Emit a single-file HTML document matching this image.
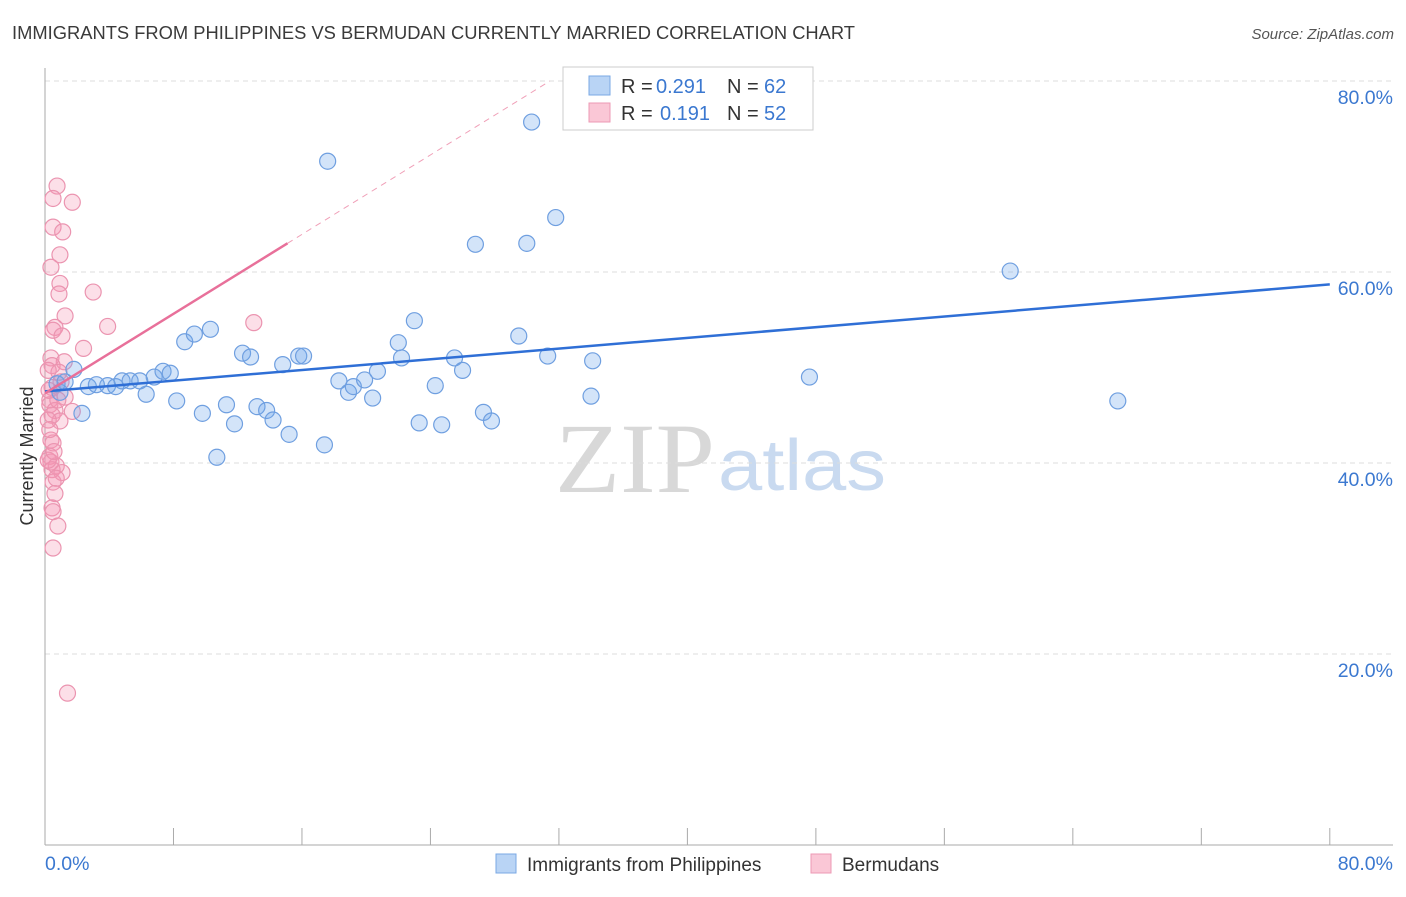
<!DOCTYPE html>
<html><head><meta charset="utf-8"><style>
body{margin:0;background:#fff;font-family:"Liberation Sans",sans-serif}
</style></head><body>
<svg id="chart" width="1406" height="892" xmlns="http://www.w3.org/2000/svg" font-family="Liberation Sans, sans-serif">
<text x="12" y="39" font-size="18" fill="#3a3a3a" textLength="843" lengthAdjust="spacingAndGlyphs">IMMIGRANTS FROM PHILIPPINES VS BERMUDAN CURRENTLY MARRIED CORRELATION CHART</text>
<text x="1394" y="39" font-size="15" fill="#555" text-anchor="end" font-style="italic">Source: ZipAtlas.com</text>
<text x="555" y="492" font-size="100" fill="#d8d8d8" font-family="Liberation Serif, serif" textLength="160" lengthAdjust="spacingAndGlyphs">ZIP</text>
<text x="718" y="490" font-size="72" fill="#c9daf0" textLength="168" lengthAdjust="spacingAndGlyphs">atlas</text>
<text transform="translate(33,456) rotate(-90)" font-size="18" fill="#333" text-anchor="middle">Currently Married</text>
<g id="grid"></g><g id="marks"></g>
<g font-size="20">
<rect x="563" y="67" width="250" height="63" fill="#fff" stroke="#ccc"/>
<rect x="589" y="76" width="21" height="19" fill="#b9d4f5" stroke="#7aa8e4"/>
<rect x="589" y="103" width="21" height="19" fill="#fac7d6" stroke="#ec9ab4"/>
<text x="621" y="93" fill="#333">R =</text><text x="656" y="93" fill="#3b78d0">0.291</text>
<text x="727" y="93" fill="#333">N =</text><text x="764" y="93" fill="#3b78d0">62</text>
<text x="621" y="120" fill="#333">R =</text><text x="660" y="120" fill="#3b78d0">0.191</text>
<text x="727" y="120" fill="#333">N =</text><text x="764" y="120" fill="#3b78d0">52</text>
</g>
<g>
<rect x="496" y="854" width="20" height="19" fill="#b9d4f5" stroke="#7aa8e4"/>
<text x="527" y="871" font-size="19" fill="#333">Immigrants from Philippines</text>
<rect x="811" y="854" width="20" height="19" fill="#fac7d6" stroke="#ec9ab4"/>
<text x="842" y="871" font-size="19" fill="#333">Bermudans</text>
</g>
</svg>
<script>
const yTicks=[20,40,60,80];
const yTickLabels=["20.0%","40.0%","60.0%","80.0%"];
const blueX=[0.75,0.93,1.25,1.8,2.3,2.7,3.2,3.9,4.4,4.8,5.3,5.9,6.3,6.8,7.35,7.8,8.2,8.7,9.3,9.8,10.3,10.7,11.3,11.8,12.3,12.8,13.2,13.8,14.2,14.8,15.2,15.8,16.1,17.4,17.6,18.3,18.9,19.2,19.9,20.4,20.7,22.0,22.2,23.0,23.3,24.3,24.7,25.5,26.0,26.8,27.3,27.8,29.5,30.0,30.3,31.3,31.8,34.1,34.0,47.6,60.1,66.8];
const blueY=[48.3,47.4,48.5,49.8,45.2,48.0,48.2,48.1,48.0,48.6,48.6,48.6,47.2,49.0,49.6,49.4,46.5,52.7,53.5,45.2,54.0,40.6,46.1,44.1,51.5,51.1,45.9,45.5,44.5,50.3,43.0,51.2,51.2,41.9,71.6,48.6,47.4,48.0,48.7,46.8,49.6,52.6,51.0,54.9,44.2,48.1,44.0,51.0,49.7,62.9,45.3,44.4,53.3,63.0,75.7,51.2,65.7,50.7,47.0,49.0,60.1,46.5];
const pinkX=[0.75,0.5,1.7,0.5,1.1,0.93,0.37,0.93,0.87,3.0,1.25,0.62,0.5,3.9,13.0,1.06,2.4,0.37,1.2,0.44,0.87,1.0,0.44,1.25,0.3,0.3,0.62,1.7,0.44,0.93,0.37,0.5,0.3,0.37,0.7,0.44,1.06,0.5,0.62,0.44,0.5,0.8,0.5,1.4,0.2,0.2,0.2,0.3,0.56,0.7,0.25,0.8];
const pinkY=[69.0,67.7,67.3,64.7,64.2,61.8,60.5,58.8,57.7,57.9,55.4,54.2,53.9,54.3,54.7,53.3,52.0,51.0,50.6,50.2,49.5,48.5,47.9,46.9,46.6,46.1,45.5,45.4,45.0,44.4,42.4,42.1,40.7,40.1,39.7,39.3,39.0,38.0,36.8,35.3,34.9,33.4,31.1,15.9,49.7,44.5,40.3,43.5,41.2,38.4,47.6,46.6];
const blueTrend=[47.5,0.14];
const pinkTrend=[47.3,1.04,15.1];
const NS="http://www.w3.org/2000/svg";
const X=v=>45+v*16.06, Y=v=>845-v*9.55;
function mk(t,a,p){const e=document.createElementNS(NS,t);for(const k in a)e.setAttribute(k,a[k]);p.appendChild(e);return e;}
const g=document.getElementById('grid'),m=document.getElementById('marks');
yTicks.forEach((t,i)=>{
 const l=mk('line',{x1:45,x2:1393,y1:Y(t),y2:Y(t),stroke:'#ddd','stroke-dasharray':'5,4'},g);
 
 
 const tx=mk('text',{x:1393,y:Y(t)+23,'font-size':19.5,fill:'#3b78d0','text-anchor':'end'},g);
 tx.textContent=yTickLabels[i];
 
 
});
const ax=mk('line',{x1:45,x2:45,y1:68,y2:845,stroke:'#aaa'},g);


const bx=mk('line',{x1:45,x2:1393,y1:845,y2:845,stroke:'#aaa'},g);


for(let i=0;i<=10;i++){const t=mk('line',{x1:X(i*8),x2:X(i*8),y1:828,y2:845,stroke:'#aaa'},g);
 
 }
const x0=mk('text',{x:45,y:870,'font-size':19.5,fill:'#3b78d0'},g);x0.textContent='0.0%';


const x1=mk('text',{x:1393,y:870,'font-size':19.5,fill:'#3b78d0','text-anchor':'end'},g);x1.textContent='80.0%';


pinkX.forEach((v,i)=>{const c=mk('circle',{cx:X(v),cy:Y(pinkY[i]),r:8,fill:'rgba(245,150,180,0.3)',stroke:'#eb94b0','stroke-width':1.2},m);
 
 });
blueX.forEach((v,i)=>{const c=mk('circle',{cx:X(v),cy:Y(blueY[i]),r:8,fill:'rgba(110,165,235,0.3)',stroke:'#6f9fe0','stroke-width':1.2},m);
 
 });
const bl=mk('line',{x1:X(0),y1:Y(blueTrend[0]),x2:X(80),y2:Y(blueTrend[0]+blueTrend[1]*80),stroke:'#2f6fd6','stroke-width':2.5},m);


const xe=(80-pinkTrend[0])/pinkTrend[1];
const pd=mk('line',{x1:X(pinkTrend[2]),y1:Y(pinkTrend[0]+pinkTrend[1]*pinkTrend[2]),x2:X(xe),y2:Y(80),stroke:'#f0a0b8','stroke-width':1,'stroke-dasharray':'6,5'},m);


const pl=mk('line',{x1:X(0),y1:Y(pinkTrend[0]),x2:X(pinkTrend[2]),y2:Y(pinkTrend[0]+pinkTrend[1]*pinkTrend[2]),stroke:'#e8709a','stroke-width':2.5},m);


</script>
</body></html>
